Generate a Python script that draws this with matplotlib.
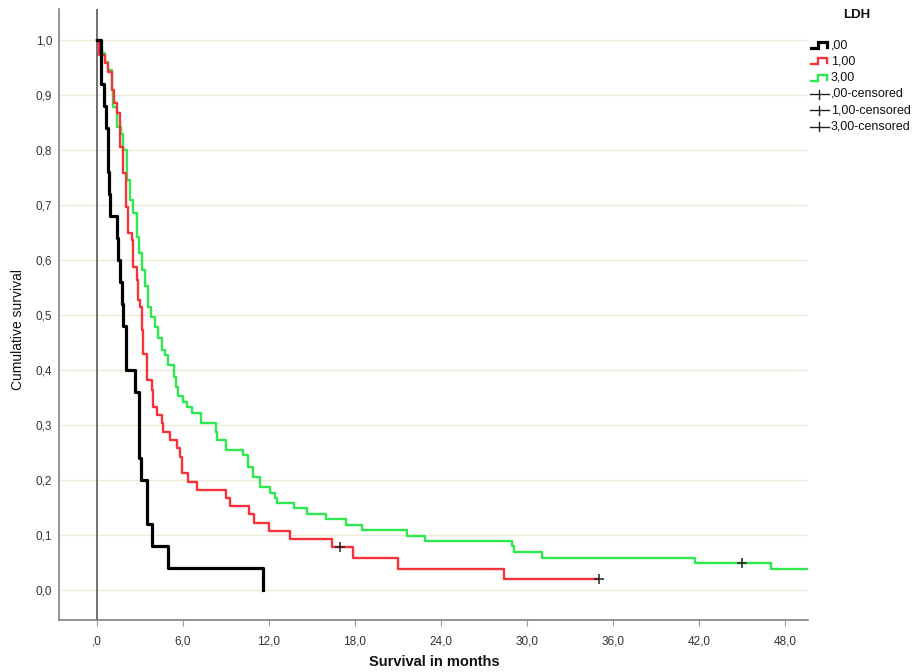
import matplotlib
matplotlib.use("Agg")
import matplotlib.pyplot as plt
from matplotlib.lines import Line2D

plt.rcParams['font.family'] = ['Liberation Sans', 'DejaVu Sans']

# ---- data ----
black_t = [0, 0.32, 0.49, 0.65, 0.79, 0.88, 0.95, 1.41, 1.48, 1.65, 1.76, 1.85,
           2.02, 2.67, 2.95, 3.06, 3.48, 3.85, 4.99, 11.61]
black_s = [1.0, 0.92, 0.88, 0.84, 0.76, 0.72, 0.68, 0.64, 0.60, 0.56, 0.52, 0.48,
           0.40, 0.36, 0.24, 0.20, 0.12, 0.08, 0.04, 0.0]

red_t = [0, 0.15, 0.6, 0.81, 1.05, 1.2, 1.39, 1.62, 1.85, 2.04, 2.2, 2.44, 2.55,
         2.79, 2.9, 3.0, 3.14, 3.25, 3.48, 3.83, 3.94, 4.18, 4.53, 4.64, 5.11,
         5.57, 5.8, 5.92, 6.38, 7.01, 8.99, 9.29, 10.61, 10.96, 12.0, 13.47,
         16.42, 17.88, 21.02, 28.38]
red_s = [1.0, 0.972, 0.958, 0.942, 0.91, 0.885, 0.867, 0.806, 0.758, 0.697, 0.649,
         0.636, 0.588, 0.564, 0.527, 0.515, 0.473, 0.43, 0.382, 0.364, 0.333,
         0.318, 0.303, 0.288, 0.273, 0.258, 0.242, 0.213, 0.197, 0.182, 0.167,
         0.153, 0.138, 0.122, 0.108, 0.092, 0.078, 0.059, 0.039, 0.020]
red_end = 35.0
red_cens_t = [16.98, 35.0]
red_cens_s = [0.078, 0.020]

green_t = [0, 0.2, 0.35, 0.58, 0.81, 1.05, 1.16, 1.39, 1.67, 1.85, 2.09, 2.32,
           2.55, 2.79, 2.97, 3.14, 3.37, 3.6, 3.8, 4.06, 4.29, 4.53, 4.76, 4.99,
           5.39, 5.5, 5.69, 6.04, 6.27, 6.62, 7.3, 8.31, 8.4, 8.99, 10.22, 10.57,
           10.87, 11.38, 12.08, 12.43, 12.59, 13.77, 14.68, 15.98, 17.37, 18.51,
           21.6, 22.88, 28.96, 29.08, 31.01, 41.69, 46.99]
green_s = [1.0, 0.99, 0.976, 0.96, 0.945, 0.909, 0.879, 0.842, 0.83, 0.8, 0.745,
           0.709, 0.685, 0.642, 0.612, 0.582, 0.552, 0.515, 0.497, 0.479, 0.458,
           0.436, 0.427, 0.409, 0.388, 0.37, 0.352, 0.342, 0.333, 0.321, 0.303,
           0.288, 0.273, 0.254, 0.245, 0.224, 0.205, 0.188, 0.176, 0.167, 0.158,
           0.149, 0.138, 0.129, 0.118, 0.109, 0.099, 0.089, 0.08, 0.07, 0.059,
           0.05, 0.038]
green_end = 50.5
green_cens_t = [44.99]
green_cens_s = [0.05]

x_ticks = [0, 6, 12, 18, 24, 30, 36, 42, 48]
x_labels = [",0", "6,0", "12,0", "18,0", "24,0", "30,0", "36,0", "42,0", "48,0"]
y_ticks = [0.0, 0.1, 0.2, 0.3, 0.4, 0.5, 0.6, 0.7, 0.8, 0.9, 1.0]
y_labels = ["0,0", "0,1", "0,2", "0,3", "0,4", "0,5", "0,6", "0,7", "0,8", "0,9", "1,0"]

legend_labels = [",00", "1,00", "3,00", ",00-censored", "1,00-censored", "3,00-censored"]

BLACK = "#000000"
RED = "#f5333a"
GREEN = "#2ee84f"

W, H = 917, 672
fig = plt.figure(figsize=(W / 100, H / 100), dpi=100)
ax = fig.add_axes([59 / W, 1 - 620 / H, (808 - 59) / W, (620 - 9) / H])

ax.set_xlim(-2.63, 49.57)
ax.set_ylim(-0.0545, 1.0564)

for y in y_ticks:
    ax.axhline(y, color="#efe9d7", lw=1.0, zorder=0)
ax.axvline(0, color="#666666", lw=1.3, zorder=1)

ax.plot(green_t + [green_end], green_s + [green_s[-1]], drawstyle="steps-post",
        color=GREEN, lw=1.7, zorder=3)
ax.plot(red_t + [red_end], red_s + [red_s[-1]], drawstyle="steps-post",
        color=RED, lw=1.7, zorder=4)
ax.plot(black_t, black_s, drawstyle="steps-post", color=BLACK, lw=2.3, zorder=5)

ax.plot(red_cens_t, red_cens_s, linestyle="none", marker="+", color="#222222",
        ms=7, mew=1.1, zorder=6)
ax.plot(green_cens_t, green_cens_s, linestyle="none", marker="+", color="#222222",
        ms=7, mew=1.1, zorder=6)

for s in ["top", "right"]:
    ax.spines[s].set_visible(False)
for s in ["left", "bottom"]:
    ax.spines[s].set_color("#777777")
    ax.spines[s].set_linewidth(1.1)

ax.set_xticks(x_ticks)
ax.set_xticklabels(x_labels)
ax.set_yticks(y_ticks)
ax.set_yticklabels(y_labels)
ax.tick_params(axis="x", length=4, color="#999999", pad=7, labelsize=8.5,
               labelcolor="#333333")
ax.tick_params(axis="y", length=0, pad=5, labelsize=8.5, labelcolor="#333333")

fig.text(434 / W, 1 - 655 / H, "Survival in months", ha="center", va="top",
         fontsize=10.5, fontweight="bold", color="#111111")
fig.text(18 / W, 1 - 330 / H, "Cumulative survival", ha="center", va="center",
         rotation=90, fontsize=10, color="#111111")

# ---- legend drawn manually ----
def fx(px):
    return px / W


def fy(py):
    return 1 - py / H


fig.text(fx(857), fy(15), "LDH", ha="center", va="center", fontsize=9.5,
         fontweight="bold", color="#111111")

rows = [45, 61.3, 77.7, 94, 110.3, 126.7]
line_cols = [BLACK, RED, GREEN]
line_ws = [2.3, 1.7, 1.7]
for i in range(3):
    yc = rows[i]
    xs = [811, 818, 818, 827, 827]
    ys = [yc + 3, yc + 3, yc - 3, yc - 3, yc + 2]
    fig.add_artist(Line2D([fx(v) for v in xs], [fy(v) for v in ys],
                          color=line_cols[i], lw=line_ws[i],
                          solid_joinstyle="miter"))
    fig.text(fx(831), fy(yc), legend_labels[i], ha="left", va="center",
             fontsize=9, color="#111111")
for i in range(3, 6):
    yc = rows[i]
    fig.add_artist(Line2D([fx(810), fx(829)], [fy(yc), fy(yc)], color="#222222",
                          lw=1.0))
    fig.add_artist(Line2D([fx(819), fx(819)], [fy(yc - 4.5), fy(yc + 4.5)],
                          color="#222222", lw=1.0))
    fig.text(fx(831), fy(yc), legend_labels[i], ha="left", va="center",
             fontsize=9, color="#111111")

fig.savefig("out.png", dpi=100)
